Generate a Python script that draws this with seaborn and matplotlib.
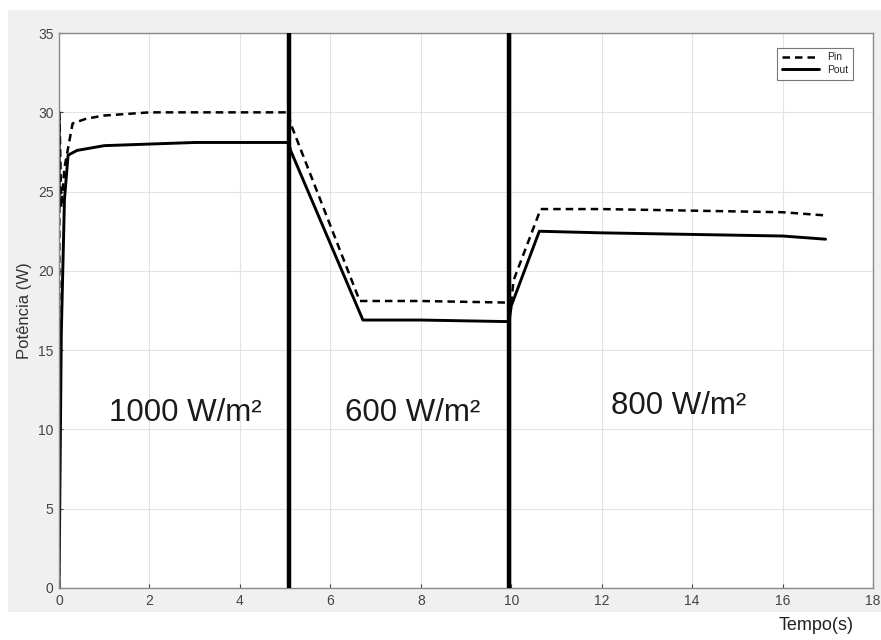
import pandas as pd
import matplotlib.pyplot as plt
import seaborn as sns
from matplotlib.patches import Rectangle

# Input / output power (W)
t_pin = [0, 0.01, 0.05, 0.12, 0.3, 0.6, 1.0, 2.0, 3.0, 4.0, 5.08, 5.12, 6.65, 8.0, 9.95, 10.0, 10.05, 10.65, 12.0, 14.0, 16.0, 16.95]
p_pin = [0, 30.0, 24.0, 26.5, 29.3, 29.6, 29.8, 30.0, 30.0, 30.0, 30.0, 29.3, 18.1, 18.1, 18.0, 18.0, 19.4, 23.9, 23.9, 23.8, 23.7, 23.5]

t_pout = [0, 0.05, 0.12, 0.2, 0.4, 1.0, 2.0, 3.0, 4.0, 5.08, 5.12, 6.72, 8.0, 9.95, 10.0, 10.62, 12.0, 14.0, 16.0, 16.95]
p_pout = [0, 16.0, 24.5, 27.3, 27.6, 27.9, 28.0, 28.1, 28.1, 28.1, 27.6, 16.9, 16.9, 16.8, 17.8, 22.5, 22.4, 22.3, 22.2, 22.0]

steps = [5.08, 9.95]
labels = ['1000 W/m²', '600 W/m²', '800 W/m²']
label_x = [2.8, 7.81, 13.7]
label_y = [11.05, 11.05, 11.5]

pin = pd.DataFrame({'t': t_pin, 'p': p_pin})
pout = pd.DataFrame({'t': t_pout, 'p': p_pout})

sns.set_style('whitegrid')
plt.rcParams['font.family'] = ['Liberation Sans', 'DejaVu Sans']

fig = plt.figure(figsize=(8.81, 6.40), dpi=100)
fig.patches.append(Rectangle((0.009, 0.044), 0.991, 0.94, transform=fig.transFigure,
                             facecolor='#f0f0f0', edgecolor='none', zorder=-10))
ax = fig.add_axes([0.067, 0.0813, 0.924, 0.867])
ax.set_zorder(2)
ax.set_facecolor('white')

sns.lineplot(data=pin, x='t', y='p', ax=ax, color='black', linestyle=(0, (3, 2)),
             linewidth=1.8, label='Pin', estimator=None, sort=False)
sns.lineplot(data=pout, x='t', y='p', ax=ax, color='black', linestyle='-',
             linewidth=2.1, label='Pout', estimator=None, sort=False)

for s in steps:
    ax.axvline(s, color='black', linewidth=3.2, zorder=5)

for lx, ly, txt in zip(label_x, label_y, labels):
    ax.text(lx, ly, txt, ha='center', va='center', fontsize=22.5, color='#1a1a1a')

ax.set_xlim(0, 18)
ax.set_ylim(0, 35)
ax.set_xticks(range(0, 19, 2))
ax.set_yticks(range(0, 36, 5))
ax.grid(True, color='#e3e3e3', linewidth=0.8)
ax.tick_params(axis='both', labelsize=10, colors='#444444', direction='in', length=3,
               left=True, bottom=True, pad=4)
for sp in ax.spines.values():
    sp.set_color('#8a8a8a')
    sp.set_linewidth(1.0)

ax.set_xlabel('')
ax.set_ylabel('Potência (W)', fontsize=12, color='#333333', labelpad=4)
fig.text(0.926, 0.023, 'Tempo(s)', ha='center', va='center', fontsize=13, color='#222222')

leg = ax.legend(loc='upper right', fontsize=7.5, frameon=True, fancybox=False,
                edgecolor='#555555', handlelength=3.6, borderpad=0.45, labelspacing=0.25,
                bbox_to_anchor=(0.982, 0.983))
leg.get_frame().set_linewidth(0.8)

plt.savefig('out.png', dpi=100)
plt.close()
